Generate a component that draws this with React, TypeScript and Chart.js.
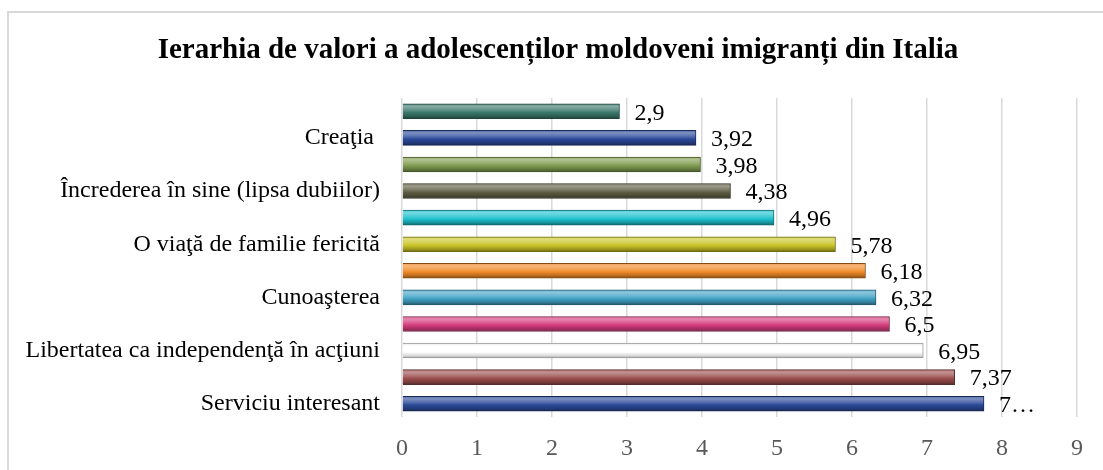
import React, { useEffect, useRef } from 'react';
import { Chart, registerables } from 'chart.js';

Chart.register(...registerables);

const TITLE = 'Ierarhia de valori a adolescenților moldoveni imigranți din Italia';

// Only every other category name is shown in the reference; hidden ones are left blank.
const categories = [
  '',
  'Creaţia ',
  '',
  'Încrederea în sine (lipsa dubiilor)',
  '',
  'O viaţă de familie fericită',
  '',
  'Cunoaşterea',
  '',
  'Libertatea ca independenţă în acţiuni',
  '',
  'Serviciu interesant',
];

const values = [2.9, 3.92, 3.98, 4.38, 4.96, 5.78, 6.18, 6.32, 6.5, 6.95, 7.37, 7.76];

const valueLabels = ['2,9', '3,92', '3,98', '4,38', '4,96', '5,78', '6,18', '6,32', '6,5', '6,95', '7,37', '7…'];

const xTicks = [0, 1, 2, 3, 4, 5, 6, 7, 8, 9];

const barColors = [
  '#3b786c',
  '#2b4a9a',
  '#7f9b4f',
  '#5e5d44',
  '#1fc2cd',
  '#c9c527',
  '#f08a28',
  '#43a3c5',
  '#d43c7c',
  '#ffffff',
  '#9c4e4e',
  '#2b4a98',
];

const BAR_H = 15;
const SERIF = '"Liberation Serif", "Times New Roman", serif';

function hexToRgb(h: string) {
  const n = parseInt(h.slice(1), 16);
  return [(n >> 16) & 255, (n >> 8) & 255, n & 255];
}
function mix(a: string, b: string, t: number) {
  const A = hexToRgb(a);
  const B = hexToRgb(b);
  const c = A.map((v, i) => Math.round(v + (B[i] - v) * t));
  return `rgb(${c[0]},${c[1]},${c[2]})`;
}

function barFill(ctx: any) {
  const base = barColors[ctx.dataIndex] ?? '#888888';
  const chart = ctx.chart;
  const ys = chart.scales && chart.scales.y;
  if (!ys || ctx.dataIndex == null || !chart.chartArea) return base;
  const cy = ys.getPixelForValue(ctx.dataIndex);
  const g = chart.ctx.createLinearGradient(0, cy - BAR_H / 2, 0, cy + BAR_H / 2);
  const isWhite = base.toLowerCase() === '#ffffff';
  if (isWhite) {
    g.addColorStop(0, '#e6e6e6');
    g.addColorStop(0.2, '#ffffff');
    g.addColorStop(0.6, '#ffffff');
    g.addColorStop(0.85, '#d8d8d8');
    g.addColorStop(1, '#a8a8a8');
    return g;
  }
  g.addColorStop(0, mix(base, '#ffffff', 0.2));
  g.addColorStop(0.18, mix(base, '#ffffff', 0.38));
  g.addColorStop(0.42, mix(base, '#ffffff', 0.18));
  g.addColorStop(0.58, base);
  g.addColorStop(0.82, mix(base, '#000000', 0.22));
  g.addColorStop(1, mix(base, '#000000', 0.45));
  return g;
}

function barBorder(ctx: any) {
  const base = barColors[ctx.dataIndex] ?? '#888888';
  if (base.toLowerCase() === '#ffffff') return '#9a9a9a';
  return mix(base, '#000000', 0.45);
}

const valueLabelPlugin = {
  id: 'valueLabels',
  afterDatasetsDraw(chart: any) {
    const meta = chart.getDatasetMeta(0);
    const c = chart.ctx;
    c.save();
    c.font = `24px ${SERIF}`;
    c.fillStyle = '#000000';
    c.textAlign = 'left';
    c.textBaseline = 'middle';
    meta.data.forEach((el: any, i: number) => {
      c.fillText(valueLabels[i], el.x + 15, el.y + 2);
    });
    c.restore();
  },
};

const titlePlugin = {
  id: 'centeredTitle',
  afterDraw(chart: any) {
    const c = chart.ctx;
    c.save();
    c.font = `bold 29px ${SERIF}`;
    c.fillStyle = '#000000';
    c.textAlign = 'center';
    c.textBaseline = 'alphabetic';
    c.fillText(TITLE, 558, 58);
    c.restore();
  },
};

export default function App() {
  const ref = useRef<HTMLCanvasElement | null>(null);

  useEffect(() => {
    if (!ref.current) return;
    const chart = new Chart(ref.current, {
      type: 'bar',
      data: {
        labels: categories,
        datasets: [
          {
            data: values,
            backgroundColor: barFill as any,
            borderColor: barBorder as any,
            borderWidth: 1,
            barThickness: BAR_H,
          },
        ],
      },
      options: {
        indexAxis: 'y',
        responsive: false,
        animation: false,
        layout: { padding: { left: 0, right: 26, top: 98, bottom: 0 } },
        plugins: {
          legend: { display: false },
          tooltip: { enabled: false },
          title: { display: false },
        },
        scales: {
          x: {
            min: 0,
            max: 9,
            afterBuildTicks: (s: any) => {
              s.ticks = xTicks.map((v) => ({ value: v }));
            },
            afterFit: (s: any) => {
              s.height = 53;
            },
            ticks: {
              color: '#595959',
              font: { family: SERIF, size: 24 },
              padding: 17,
              maxRotation: 0,
            },
            grid: { color: '#d9d9d9', lineWidth: 1.5, drawTicks: false },
            border: { display: false },
          },
          y: {
            afterFit: (s: any) => {
              s.width = 402;
            },
            ticks: {
              autoSkip: false,
              color: '#000000',
              font: { family: SERIF, size: 24 },
              padding: 22,
            },
            grid: { display: false, drawTicks: false },
            border: { display: false },
          },
        },
      },
      plugins: [valueLabelPlugin, titlePlugin],
    });
    return () => chart.destroy();
  }, []);

  return (
    <div style={{ position: 'fixed', left: 0, top: 0, width: 1103, height: 470, background: '#ffffff', overflow: 'hidden' }}>
      <div
        style={{
          position: 'absolute',
          left: 7,
          top: 11,
          width: 1120,
          height: 500,
          border: '2px solid #d9d9d9',
          boxSizing: 'border-box',
        }}
      />
      <canvas ref={ref} width={1103} height={470} style={{ position: 'absolute', left: 0, top: 0 }} />
    </div>
  );
}
